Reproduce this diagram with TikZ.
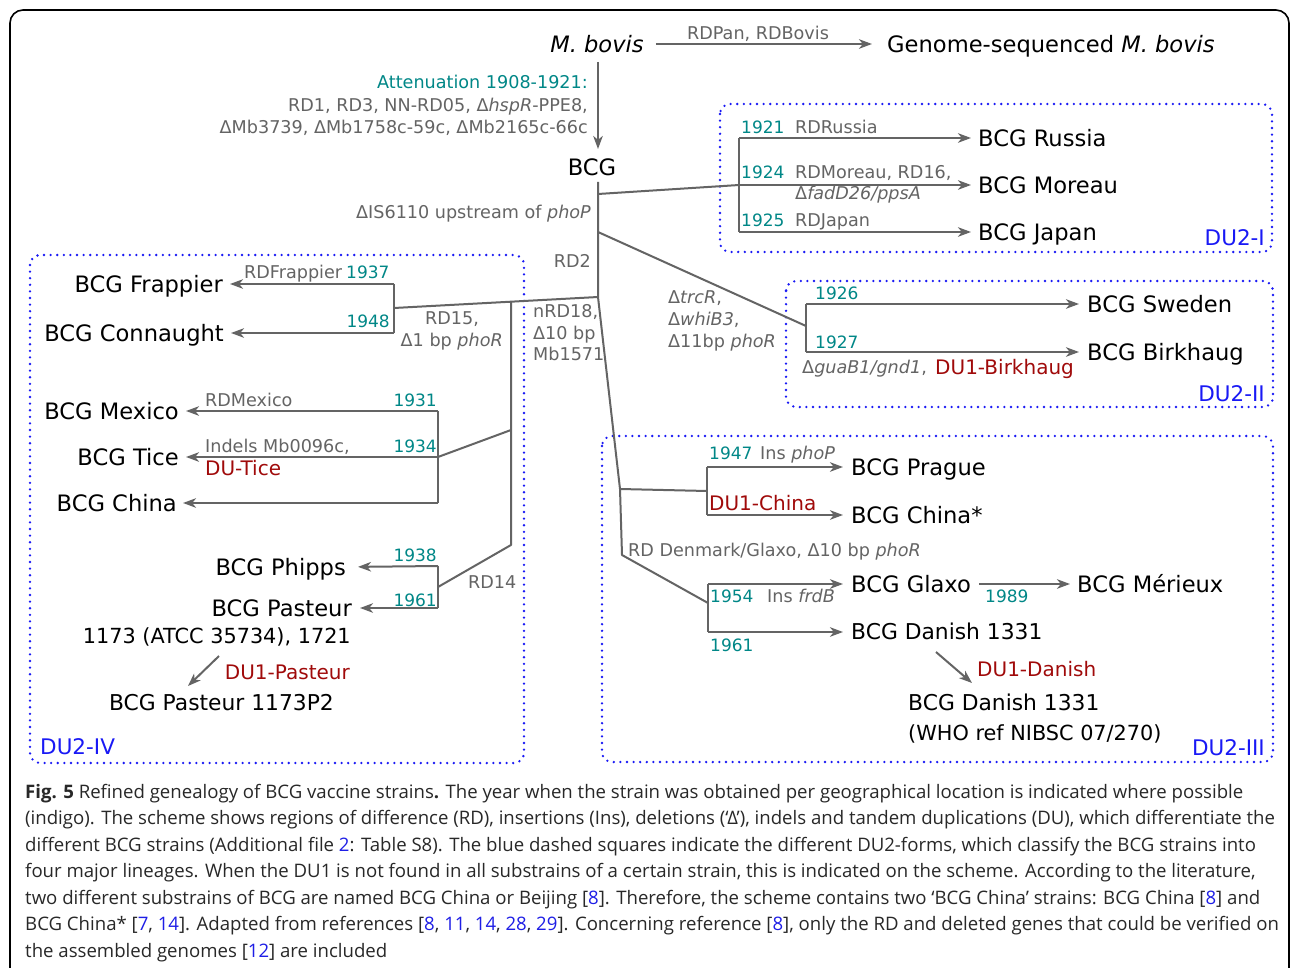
\documentclass[tikz,border=0pt]{standalone}
\usepackage{fontspec}
\setmainfont{DejaVu Sans}
\newfontfamily\capfont{Open Sans}
\usetikzlibrary{arrows.meta,calc}
\definecolor{lgray}{RGB}{100,100,100}
\definecolor{lngray}{RGB}{100,100,100}
\definecolor{yteal}{RGB}{0,135,135}
\definecolor{dured}{RGB}{160,10,10}
\definecolor{dublue}{RGB}{25,25,245}
\definecolor{captxt}{RGB}{40,40,40}
\definecolor{linkblue}{RGB}{30,30,230}
\begin{document}
\begin{tikzpicture}[x=1pt,y=-1pt,
  big/.style={inner sep=0pt, font=\fontsize{22.6}{27}\selectfont, text height=16.5pt, text depth=0pt},
  bigs/.style={inner sep=0pt, font=\fontsize{20.8}{25}\selectfont, text height=15.2pt, text depth=0pt},
  bigd/.style={inner sep=0pt, font=\fontsize{21.8}{26}\selectfont, text height=15.9pt, text depth=0pt},
  lab/.style={inner sep=0pt, font=\fontsize{17.6}{21}\selectfont, text=lgray, text height=12.8pt, text depth=0pt},
  yr/.style={inner sep=0pt, font=\fontsize{17}{21}\selectfont, text=yteal, text height=12.4pt, text depth=0pt},
  dul/.style={inner sep=0pt, font=\fontsize{20}{24}\selectfont, text=dured, text height=14.6pt, text depth=0pt},
  dub/.style={inner sep=0pt, font=\fontsize{21.5}{26}\selectfont, text=dublue, text height=15.7pt, text depth=0pt},
  capl/.style={inner sep=0pt, anchor=base west, font=\capfont\fontsize{18.6}{22}\selectfont, text=captxt},
  ln/.style={draw=lngray, line width=2pt},
  arr/.style={ln, -{Stealth[length=13pt,width=9.5pt,inset=3.8pt]}},
  dubox/.style={draw=dublue, line width=2.6pt, dash pattern=on 0pt off 6.6pt, line cap=round, rounded corners=10pt}
]
\useasboundingbox (0,0) rectangle (1290,968);
\fill[white] (0,0) rectangle (1290,968);
\draw[line width=1.6pt, rounded corners=13pt] (10,10) rectangle (1289,1010);

% ---------- boxes
\draw[dubox] (720,104) rectangle (1272,252);
\draw[dubox] (786,281) rectangle (1273,407);
\draw[dubox] (602,436) rectangle (1273,762);
\draw[dubox] (30,255) rectangle (524,763);
\node[dub, anchor=east] (du2i) at (1265,238) {DU2-I};
\node[dub, anchor=east] (du2ii) at (1265,394) {DU2-II};
\node[dub, anchor=east] (du2iii) at (1265,748) {DU2-III};
\node[dub, anchor=west] (du2iv) at (40,747) {DU2-IV};

% ---------- top
\node[big] (mbovis) at (597,44) {\itshape M. bovis};
\node[big, anchor=west] (genome) at (887,44) {Genome-sequenced \textit{M. bovis}};
\draw[arr, shorten <=12pt, shorten >=15pt] (mbovis.east) -- (genome.west);
\node[lab] (rdpan) at (758,33) {RDPan, RDBovis};
\node[big] (bcg) at (592,167) {BCG};
\coordinate (mbA) at (598,62);
\coordinate (mbB) at (598,149);
\draw[arr] (mbA) -- (mbB);
\node[inner sep=0pt, font=\fontsize{17.6}{21}\selectfont, text=yteal, text height=12.8pt, text depth=0pt, anchor=east] (att) at (588,82) {Attenuation 1908-1921:};
\node[lab, anchor=east] (att2) at (588,105) {RD1, RD3, NN-RD05, Δ\textit{hspR}-PPE8,};
\node[lab, anchor=east] (att3) at (588,127) {ΔMb3739, ΔMb1758c-59c, ΔMb2165c-66c};
\node[lab, anchor=east] (is6110) at (591,212) {ΔIS6110 upstream of \textit{phoP}};
\node[lab, anchor=east] (rd2) at (591,261) {RD2};
\node[lab, anchor=west] (nrd1) at (533,311) {nRD18,};
\node[lab, anchor=west] (nrd2) at (533,333) {Δ10 bp};
\node[lab, anchor=west] (nrd3) at (533,354) {Mb1571};

% ---------- trunk coordinates
\coordinate (T0) at (598,182);
\coordinate (T1) at (598,194);
\coordinate (T2) at (598,232);
\coordinate (T3) at (598,297);
\coordinate (J1) at (739,185);
\coordinate (R1) at (739,138);
\coordinate (R3) at (739,232);
\coordinate (J2) at (806,326);
\coordinate (S1) at (806,304);
\coordinate (S2) at (806,352);
\coordinate (F0) at (394,308);
\coordinate (F1) at (394,284);
\coordinate (F2) at (394,333);
\coordinate (L0) at ($(T3)!0.4265!(F0)$);
\coordinate (L1) at (511,430);
\coordinate (L2) at (511,545);
\coordinate (M0) at (438,457);
\coordinate (M1) at (438,411);
\coordinate (M3) at (438,503);
\coordinate (P0) at (438,587);
\coordinate (P1) at (438,566);
\coordinate (P2) at (438,608);
\coordinate (C0) at (620,489);
\coordinate (C1) at (622,555);
\coordinate (Q0) at (707,491);
\coordinate (Q1) at (707,467);
\coordinate (Q2) at (707,515);
\coordinate (G0) at (708,603);
\coordinate (G1) at (708,584);
\coordinate (G2) at (708,632);

\draw[ln, line join=round] (T0) -- (T3) -- (C0) -- (C1) -- (G0);
\draw[ln] (T1) -- (J1);
\draw[ln] (T2) -- (J2);
\draw[ln] (T3) -- (F0);
\draw[ln, line join=round] (L0) -- (L2) -- (P0);
\draw[ln] (L1) -- (M0);
\draw[ln] (C0) -- (Q0);
\draw[ln] (R1) -- (R3);
\draw[ln] (S1) -- (S2);
\draw[ln] (F1) -- (F2);
\draw[ln] (M1) -- (M3);
\draw[ln] (P1) -- (P2);
\draw[ln] (Q1) -- (Q2);
\draw[ln] (G1) -- (G2);

% ---------- DU2-I
\node[big, anchor=west] (russia) at (978,138) {BCG Russia};
\node[big, anchor=west] (moreau) at (978,185) {BCG Moreau};
\node[big, anchor=west] (japan) at (978,232) {BCG Japan};
\draw[arr, shorten >=7pt] (R1) -- (russia.west);
\draw[arr, shorten >=7pt] (J1) -- (moreau.west);
\draw[arr, shorten >=7pt] (R3) -- (japan.west);
\node[yr, anchor=west] (y1921) at (741,127) {1921};
\node[lab, anchor=west] (rdrus) at (795,127) {RDRussia};
\node[yr, anchor=west] (y1924) at (741,172) {1924};
\node[lab, anchor=west] (rdmor) at (795,172) {RDMoreau, RD16,};
\node[lab, anchor=west] (fad) at (795,193) {Δ\textit{fadD26/ppsA}};
\node[yr, anchor=west] (y1925) at (741,220) {1925};
\node[lab, anchor=west] (rdjap) at (795,220) {RDJapan};

% ---------- DU2-II
\node[big, anchor=west] (sweden) at (1087,304) {BCG Sweden};
\node[big, anchor=west] (birkhaug) at (1087,352) {BCG Birkhaug};
\draw[arr, shorten >=8pt] (S1) -- (sweden.west);
\draw[arr, shorten >=8pt] (S2) -- (birkhaug.west);
\node[lab, anchor=west] (trc) at (668,297) {Δ\textit{trcR},};
\node[lab, anchor=west] (whi) at (668,319) {Δ\textit{whiB3},};
\node[lab, anchor=west] (d11) at (668,341) {Δ11bp \textit{phoR}};
\node[yr, anchor=west] (y1926) at (815,293) {1926};
\node[yr, anchor=west] (y1927) at (815,342) {1927};
\node[lab, anchor=west] (gua) at (802,367) {Δ\textit{guaB1/gnd1},};
\node[dul, anchor=west] (dubirk) at (935,367) {DU1-Birkhaug};

% ---------- DU2-IV
\node[big, anchor=east] (frappier) at (223,284) {BCG Frappier};
\node[big, anchor=east] (connaught) at (224,333) {BCG Connaught};
\draw[arr, shorten >=7pt] (F1) -- (frappier.east);
\draw[arr, shorten >=7pt] (F2) -- (connaught.east);
\node[lab, anchor=west] (rdfr) at (244,272) {RDFrappier};
\node[yr, anchor=west] (y1937) at (346,272) {1937};
\node[yr, anchor=east] (y1948) at (390,321) {1948};
\node[lab] (rd15) at (452,318) {RD15,};
\node[lab, anchor=east] (d1bp) at (503,340) {Δ1 bp \textit{phoR}};

\node[big, anchor=east] (mexico) at (179,411) {BCG Mexico};
\node[big, anchor=east] (tice) at (179,457) {BCG Tice};
\node[big, anchor=east] (china) at (177,503) {BCG China};
\draw[arr, shorten >=7pt] (M1) -- (mexico.east);
\draw[arr, shorten >=7pt] (M0) -- (tice.east);
\draw[arr, shorten >=6pt] (M3) -- (china.east);
\node[lab, anchor=west] (rdmex) at (205,400) {RDMexico};
\node[yr, anchor=east] (y1931) at (437,400) {1931};
\node[lab, anchor=west] (indels) at (205,446) {Indels Mb0096c,};
\node[yr, anchor=east] (y1934) at (437,446) {1934};
\node[dul, anchor=west] (dutice) at (205,468) {DU-Tice};

\node[big, anchor=east] (phipps) at (346,567) {BCG Phipps};
\node[big, anchor=east] (pasteur) at (352,608) {BCG Pasteur};
\node[bigs, anchor=east] (pasteurb) at (351,636) {1173 (ATCC 35734), 1721};
\node[bigd, anchor=east] (pasteurp2) at (334,703) {BCG Pasteur 1173P2};
\draw[arr, shorten >=12pt] (P1) -- (phipps.east);
\draw[arr, shorten >=8pt] (P2) -- (pasteur.east);
\node[yr, anchor=east] (y1938) at (437,555) {1938};
\node[yr, anchor=east] (y1961a) at (437,600) {1961};
\node[lab, anchor=west] (rd14) at (468,582) {RD14};
\coordinate (pa1) at (219,656);
\coordinate (pa2) at (188,686);
\draw[arr] (pa1) -- (pa2);
\node[dul, anchor=east] (dupast) at (350,672) {DU1-Pasteur};

% ---------- DU2-III
\node[big, anchor=west] (prague) at (851,467) {BCG Prague};
\node[big, anchor=west] (chinastar) at (851,515) {BCG China*};
\node[big, anchor=west] (glaxo) at (851,584) {BCG Glaxo};
\node[big, anchor=west] (merieux) at (1077,584) {BCG Mérieux};
\node[bigd, anchor=west] (danish) at (851,632) {BCG Danish 1331};
\node[bigd, anchor=west] (danish2) at (908,703) {BCG Danish 1331};
\node[bigs, anchor=west] (who) at (908,733) {(WHO ref NIBSC 07/270)};
\draw[arr, shorten >=8pt] (Q1) -- (prague.west);
\draw[arr, shorten >=8pt] (Q2) -- (chinastar.west);
\draw[arr, shorten >=8pt] (G1) -- (glaxo.west);
\draw[arr, shorten >=8pt] (G2) -- (danish.west);
\draw[arr, shorten <=8pt, shorten >=7pt] (glaxo.east) -- (merieux.west);
\coordinate (da1) at (936,652);
\coordinate (da2) at (972,683);
\draw[arr] (da1) -- (da2);
\node[yr, anchor=west] (y1947) at (709,453) {1947};
\node[lab, anchor=west] (insphop) at (760,453) {Ins \textit{phoP}};
\node[dul, anchor=west] (duchina) at (709,503) {DU1-China};
\node[lab, anchor=west] (rdden) at (628,550) {RD Denmark/Glaxo, Δ10 bp \textit{phoR}};
\node[yr, anchor=west] (y1954) at (710,596) {1954};
\node[lab, anchor=west] (insfrd) at (767,596) {Ins \textit{frdB}};
\node[yr, anchor=west] (y1961b) at (710,645) {1961};
\node[yr, anchor=west] (y1989) at (985,596) {1989};
\node[dul, anchor=west] (dudan) at (977,669) {DU1-Danish};

% ---------- caption
\node[capl] (cap1) at (25,798) {\textbf{Fig. 5} Refined genealogy of BCG vaccine strains\textbf{.} The year when the strain was obtained per geographical location is indicated where possible};
\node[capl] (cap2) at (25,824.5) {(indigo). The scheme shows regions of difference (RD), insertions (Ins), deletions (‘Δ’), indels and tandem duplications (DU), which differentiate the};
\node[capl] (cap3) at (25,851) {different BCG strains (Additional file \textcolor{linkblue}{2}: Table S8). The blue dashed squares indicate the different DU2-forms, which classify the BCG strains into};
\node[capl] (cap4) at (25,877.5) {four major lineages. When the DU1 is not found in all substrains of a certain strain, this is indicated on the scheme. According to the literature,};
\node[capl] (cap5) at (25,904) {two different substrains of BCG are named BCG China or Beijing [\textcolor{linkblue}{8}]. Therefore, the scheme contains two ‘BCG China’ strains: BCG China [\textcolor{linkblue}{8}] and};
\node[capl] (cap6) at (25,930.5) {BCG China* [\textcolor{linkblue}{7}, \textcolor{linkblue}{14}]. Adapted from references [\textcolor{linkblue}{8}, \textcolor{linkblue}{11}, \textcolor{linkblue}{14}, \textcolor{linkblue}{28}, \textcolor{linkblue}{29}]. Concerning reference [\textcolor{linkblue}{8}], only the RD and deleted genes that could be verified on};
\node[capl] (cap7) at (25,957) {the assembled genomes [\textcolor{linkblue}{12}] are included};
\end{tikzpicture}
\end{document}
